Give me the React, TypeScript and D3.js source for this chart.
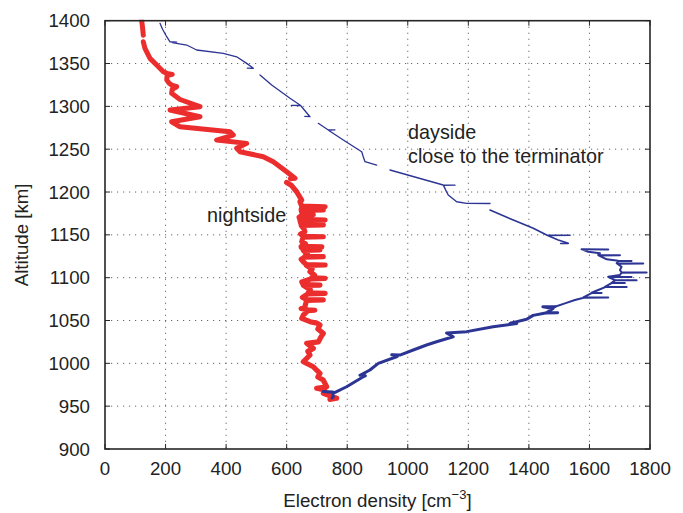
import React from "react";
import * as d3 from "d3";

// ---- data (electron density [cm^-3], altitude [km]) ----
const xTicks = [0, 200, 400, 600, 800, 1000, 1200, 1400, 1600, 1800];
const yTicks = [900, 950, 1000, 1050, 1100, 1150, 1200, 1250, 1300, 1350, 1400];

const nightUpper: [number, number][] = [[121, 1400.7], [124, 1392], [126.5, 1383]];
const nightMid: [number, number][] = [
  [126.5, 1375.4], [132, 1367.7], [148.6, 1356], [170.7, 1348.2], [192.7, 1340.4], [205, 1338.5],
  [222, 1337.3], [205, 1336], [204, 1330.7], [212, 1327], [220, 1324.9], [236.8, 1322.9], [222, 1320],
  [220, 1315.2], [247.7, 1308], [313.7, 1299.6], [214.7, 1295.7], [313.7, 1287.9], [220, 1282],
  [247.7, 1276.2], [412.8, 1270.4], [423.7, 1266.5], [368.8, 1260.7], [468, 1256.8], [435, 1251],
  [445.8, 1247], [522.8, 1241.2], [555.8, 1235.4], [600, 1223.7], [627.5, 1216], [612, 1215.6],
];
const nightMain: [number, number][] = [
  [600, 1211.2], [615, 1208], [633, 1200.3], [649.6, 1190.6], [644, 1188.7],
  [650, 1183.5], [727, 1182.8], [650, 1182],
  [648, 1179.5], [721, 1179], [648, 1178.5],
  [652, 1174], [688, 1173.5], [652, 1173], [641, 1170.5],
  [644, 1168], [727, 1167.3], [644, 1166.5],
  [648, 1162], [721, 1161.5], [648, 1161], [657, 1157],
  [660, 1153.6], [646, 1151],
  [654, 1148.3], [721, 1147.8], [654, 1147.3],
  [650, 1142], [662, 1139.5],
  [648, 1136.5], [716, 1136], [648, 1135.5],
  [655, 1132.8], [710, 1132.3], [655, 1131.8], [668, 1128],
  [660, 1125], [721, 1124.5], [660, 1124], [648, 1121.5],
  [655, 1118.6],
  [665, 1115.3], [727, 1114.8], [665, 1114.3], [684, 1110],
  [677, 1107], [692, 1103],
  [682, 1099.7], [727, 1099.2], [682, 1098.7], [650, 1095],
  [655, 1091.8], [710, 1091.4], [655, 1091], [678, 1086],
  [671, 1082.2], [727, 1081.7], [671, 1081.2], [652, 1077],
  [666, 1074.5], [721, 1074], [666, 1073.5],
  [660, 1066], [648, 1064],
  [670, 1062.4], [693, 1062], [670, 1061.6],
  [655, 1056.4], [650, 1052.5], [677, 1048.6], [700, 1047], [710, 1044.7], [703, 1040], [721, 1035],
  [712, 1030], [705, 1025], [666, 1023.4], [688, 1017.5], [670, 1014], [677, 1009.7], [655, 1001.9],
  [688, 996], [699, 992], [710, 988.3], [703, 984], [721, 980.5], [732, 972.7], [699, 970.9],
  [725, 969], [721, 965], [765, 959.2], [743, 958],
];

const day1: [number, number][] = [
  [181.6, 1396.9], [190, 1390], [203.8, 1381.3], [214.7, 1375.4], [236.8, 1375], [222, 1374.5],
  [269.8, 1371.6], [302.8, 1365.8], [390.7, 1361.9], [434.9, 1357.9], [468, 1350.2], [489.8, 1344.4],
  [470, 1344.6],
];
const day2: [number, number][] = [
  [511.9, 1336.6], [550.5, 1324.9], [611, 1309.4], [644, 1301.5], [615, 1301.2], [646, 1301],
  [677, 1287.9], [660, 1288.2],
];
const day3: [number, number][] = [
  [704.4, 1280.2], [737.5, 1272.4], [759.6, 1272.6], [738, 1272.2], [787, 1260.7], [847.8, 1247],
  [853, 1241.2], [858.7, 1235.4], [897.3, 1231.5],
];
const day4: [number, number][] = [
  [941.2, 1225.7], [1117, 1208.2], [1156, 1208], [1118, 1207.8], [1128, 1200.3], [1133.7, 1196.5],
  [1161.5, 1188.7], [1194.5, 1186.8], [1271.5, 1186.6],
];
const day5: [number, number][] = [
  [1271.5, 1179], [1348.5, 1167.3], [1414.5, 1157.6], [1458.7, 1149.8], [1536, 1149.6], [1460, 1149.4],
  [1497, 1144], [1530, 1140.1], [1505, 1139.9],
];
const day6: [number, number][] = [
  [1574, 1133.1], [1662, 1133], [1576, 1132.8], [1596, 1130.3], [1634.7, 1128.4], [1629, 1126.4],
  [1700.8, 1126.2], [1630, 1126], [1657, 1121.4], [1695, 1119.8], [1739, 1119.6], [1695, 1119.4],
  [1690, 1116.8], [1777.7, 1116.6], [1692, 1116.4], [1706, 1112.8], [1700.8, 1109], [1706, 1106.3],
  [1789, 1106.1], [1706, 1105.9], [1700.8, 1103.1], [1662, 1101.1], [1739, 1100.9], [1663, 1100.7],
  [1684, 1097.3], [1755.8, 1097.1], [1685, 1096.9], [1673, 1094.1], [1717, 1093.9], [1673, 1093.7],
  [1651, 1089.4], [1723, 1089.2], [1652, 1089], [1629, 1085.6], [1607, 1082.4], [1640, 1082.2],
  [1607, 1082], [1580, 1077], [1662, 1076.8], [1581, 1076.6], [1552, 1073.9], [1519, 1070],
  [1486, 1066.1],
];
const day7: [number, number][] = [
  [1486, 1066.1], [1446, 1066], [1480, 1064], [1458, 1059], [1495, 1059.2], [1455, 1058.8],
  [1414, 1056], [1392.6, 1051.4], [1337.5, 1046.7], [1360, 1046.5], [1282, 1042.8], [1194.5, 1037],
  [1128, 1035.5], [1150, 1031], [1095, 1025.2], [1062, 1021.4], [1018, 1015.6], [974, 1009.7],
  [947, 1010], [965, 1008], [902.6, 1000], [875, 992.2], [842, 986], [860, 985.5], [853, 984.4],
  [798, 972.7], [760, 966], [721, 967], [752, 966.5], [754, 961], [750, 959.5],
];

const W = 683, H = 513;
const L = 105, R = 650, T = 20.7, B = 449;
const RED = "#ec2d2e";
const BLUE = "#2c3593";
const FONT = "'Liberation Sans', Arial, Helvetica, sans-serif";

export default function App() {
  const x = d3.scaleLinear().domain([0, 1800]).range([L, R]);
  const y = d3.scaleLinear().domain([900, 1400]).range([B, T]);
  const line = d3.line<[number, number]>().x((d) => x(d[0])).y((d) => y(d[1]));

  const daySegs: { d: [number, number][]; w: number }[] = [
    { d: day1, w: 1.3 }, { d: day2, w: 1.3 }, { d: day3, w: 1.3 }, { d: day4, w: 1.4 },
    { d: day5, w: 1.6 }, { d: day6, w: 2.0 }, { d: day7, w: 3.0 },
  ];

  return (
    <svg width={W} height={H} style={{ position: "absolute", left: 0, top: 0, background: "#fff" }}
      fontFamily={FONT}>
      <defs>
        <clipPath id="plot"><rect x={L} y={T - 1} width={R - L} height={B - T + 1} /></clipPath>
      </defs>
      <rect x={0} y={0} width={W} height={H} fill="#fff" />
      {/* grid */}
      <g stroke="#666" strokeWidth={1} strokeDasharray="1.2 4.8">
        {xTicks.slice(1, -1).map((t) => (
          <line key={"gx" + t} x1={x(t)} x2={x(t)} y1={T} y2={B} />
        ))}
        {yTicks.slice(1, -1).map((t) => (
          <line key={"gy" + t} x1={L} x2={R} y1={y(t)} y2={y(t)} />
        ))}
      </g>
      {/* data */}
      <g clipPath="url(#plot)" fill="none" strokeLinejoin="round" strokeLinecap="round">
        <path d={line(nightUpper) || ""} stroke={RED} strokeWidth={5} />
        <path d={line(nightMid) || ""} stroke={RED} strokeWidth={5} />
        <path d={line(nightMain) || ""} stroke={RED} strokeWidth={5.2} />
        {daySegs.map((s, i) => (
          <path key={"day" + i} d={line(s.d) || ""} stroke={BLUE} strokeWidth={s.w} />
        ))}
      </g>
      {/* frame and ticks */}
      <g stroke="#262626" strokeWidth={1}>
        {xTicks.map((t) => (
          <g key={"tx" + t}>
            <line x1={x(t)} x2={x(t)} y1={B} y2={B - 5} />
            <line x1={x(t)} x2={x(t)} y1={T} y2={T + 5} />
          </g>
        ))}
        {yTicks.map((t) => (
          <g key={"ty" + t}>
            <line x1={L} x2={L + 5} y1={y(t)} y2={y(t)} />
            <line x1={R} x2={R - 5} y1={y(t)} y2={y(t)} />
          </g>
        ))}
      </g>
      <rect x={L} y={T} width={R - L} height={B - T} fill="none" stroke="#262626" strokeWidth={1.6} />
      {/* tick labels */}
      <g fill="#222" fontSize={18.7}>
        {xTicks.map((t) => (
          <text key={"lx" + t} x={x(t)} y={475} textAnchor="middle">{t}</text>
        ))}
        {yTicks.map((t) => (
          <text key={"ly" + t} x={90} y={y(t)} dy="0.35em" textAnchor="end">{t}</text>
        ))}
      </g>
      {/* axis titles */}
      <text x={(L + R) / 2} y={507} textAnchor="middle" fontSize={18.7} fill="#222">
        Electron density [cm<tspan dy={-8} fontSize={13}>−3</tspan><tspan dy={8}>]</tspan>
      </text>
      <text transform={`translate(28,${(T + B) / 2}) rotate(-90)`} textAnchor="middle" fontSize={18.7} fill="#222">
        Altitude [km]
      </text>
      {/* annotations */}
      <g fill="#222" fontSize={19.8}>
        <text x={207} y={221.5}>nightside</text>
        <text x={408} y={139.3}>dayside</text>
        <text x={408} y={163.3}>close to the terminator</text>
      </g>
    </svg>
  );
}
